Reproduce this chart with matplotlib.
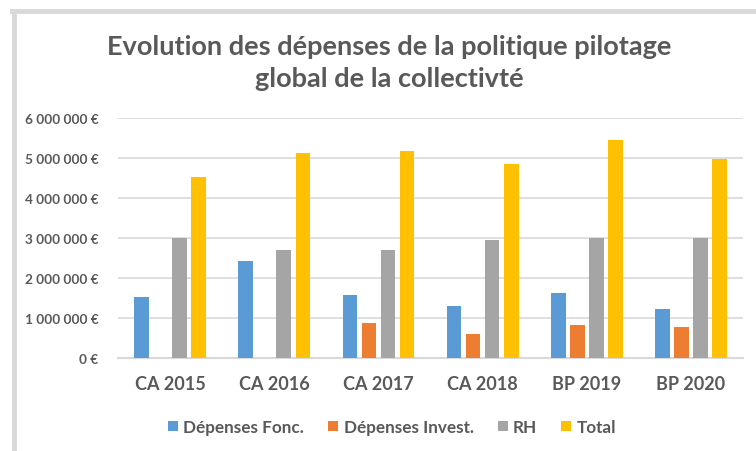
import numpy as np
import matplotlib.pyplot as plt
from matplotlib.lines import Line2D
from matplotlib.ticker import FuncFormatter

plt.rcParams['font.family'] = ['Lato', 'DejaVu Sans']

categories = ["CA 2015", "CA 2016", "CA 2017", "CA 2018", "BP 2019", "BP 2020"]
dep_fonc = [1530000, 2430000, 1580000, 1300000, 1620000, 1220000]
dep_invest = [0, 0, 870000, 600000, 820000, 780000]
rh = [3000000, 2690000, 2700000, 2950000, 3000000, 2990000]
total = [4530000, 5130000, 5170000, 4850000, 5440000, 4980000]

series = [
    ("Dépenses Fonc.", dep_fonc, "#5b9bd5"),
    ("Dépenses Invest.", dep_invest, "#ed7d31"),
    ("RH", rh, "#a5a5a5"),
    ("Total", total, "#ffc000"),
]
text_col = "#595959"

fig = plt.figure(figsize=(7.56, 4.52), dpi=100)
ax = fig.add_axes([0.156, 0.2058, 0.827, 0.531])

x = np.arange(len(categories))
slot = 0.183
width = 0.14
for i, (name, vals, col) in enumerate(series):
    ax.bar(x + (i - 1.5) * slot, vals, width, color=col, label=name, zorder=3)

ax.set_xlim(-0.5, len(categories) - 0.5)
ax.set_ylim(0, 6000000)
ax.set_yticks(np.arange(0, 6000001, 1000000))
ax.yaxis.set_major_formatter(FuncFormatter(
    lambda v, p: f"{int(v):,} €".replace(",", " ")))
ax.set_xticks(x)
ax.set_xticklabels(categories)
ax.grid(axis="y", color="#d9d9d9", linewidth=1.2, zorder=0)
for s in ["top", "right", "left"]:
    ax.spines[s].set_visible(False)
ax.spines["bottom"].set_color("#d9d9d9")
ax.spines["bottom"].set_linewidth(1.5)
ax.tick_params(axis="both", length=0)
ax.tick_params(axis="y", labelsize=9.8, labelcolor=text_col, pad=14)
ax.tick_params(axis="x", labelsize=13, labelcolor=text_col, pad=12)
for lab in ax.get_yticklabels() + ax.get_xticklabels():
    lab.set_fontweight("bold")

fig.text(0.515, 1 - 63 / 452, "Evolution des dépenses de la politique pilotage\nglobal de la collectivté",
         ha="center", va="center", fontsize=19.5, fontweight="bold",
         color=text_col, linespacing=1.4)

leg = fig.legend(loc="center", bbox_to_anchor=(392 / 756, 1 - 428 / 452), ncol=4,
                 frameon=False, handlelength=0.6, handleheight=0.6,
                 handletextpad=0.3, columnspacing=1.4, fontsize=12.3)
for t in leg.get_texts():
    t.set_color(text_col)
    t.set_fontweight("bold")

# chart frame (left and top edges)
fig.add_artist(Line2D([14 / 756, 14 / 756], [0, 1 - 12 / 452], transform=fig.transFigure,
                      color="#d9d9d9", linewidth=3.5))
fig.add_artist(Line2D([12 / 756, 1], [1 - 12 / 452, 1 - 12 / 452], transform=fig.transFigure,
                      color="#d9d9d9", linewidth=3.5))

plt.savefig("out.png", dpi=100)
plt.close(fig)
